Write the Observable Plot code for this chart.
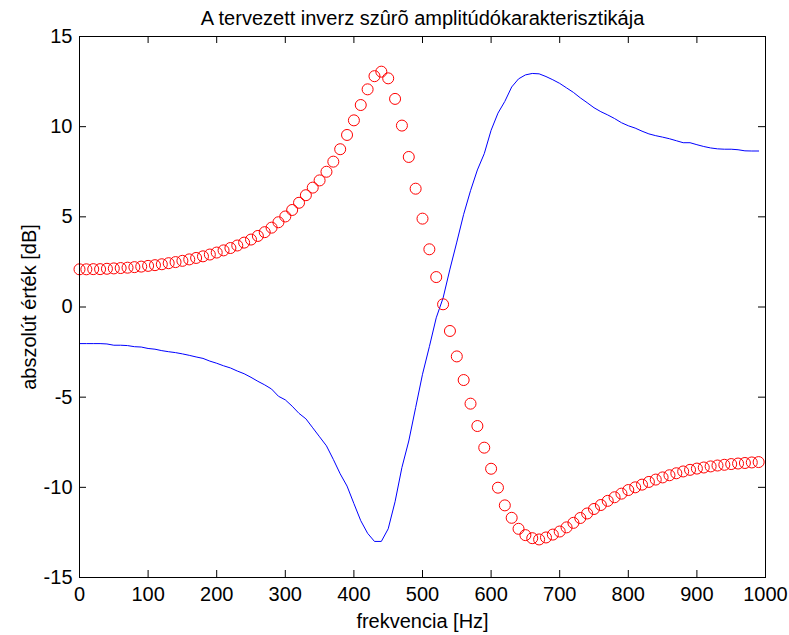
<!DOCTYPE html>
<html>
<head>
<meta charset="utf-8">
<script src="https://cdn.jsdelivr.net/npm/d3@7"></script>
<script src="https://cdn.jsdelivr.net/npm/@observablehq/plot@0.6"></script>
<style>
  html, body { margin: 0; padding: 0; background: #fff; overflow: hidden; }
</style>
</head>
<body>
<div id="chart"></div>
<script>
const title = "A tervezett inverz szûrõ amplitúdókarakterisztikája";
const xLabel = "frekvencia [Hz]";
const yLabel = "abszolút érték [dB]";

const freq = [0,10,20,30,40,50,60,70,80,90,100,110,120,130,140,150,160,170,180,190,
  200,210,220,230,240,250,260,270,280,290,300,310,320,330,340,350,360,370,380,390,
  400,410,420,430,440,450,460,470,480,490,500,510,520,530,540,550,560,570,580,590,
  600,610,620,630,640,650,660,670,680,690,700,710,720,730,740,750,760,770,780,790,
  800,810,820,830,840,850,860,870,880,890,900,910,920,930,940,950,960,970,980,990];

// red circles (designed filter)
const redValues = [2.09,2.09,2.10,2.10,2.12,2.14,2.16,2.18,2.21,2.24,
  2.28,2.32,2.37,2.43,2.49,2.56,2.64,2.72,2.81,2.91,
  3.02,3.14,3.27,3.41,3.57,3.74,3.94,4.15,4.40,4.70,
  5.02,5.38,5.78,6.20,6.62,7.02,7.50,8.06,8.75,9.54,
  10.35,11.20,12.07,12.80,13.05,12.68,11.54,10.06,8.32,6.56,
  4.90,3.20,1.66,0.15,-1.33,-2.74,-4.05,-5.36,-6.60,-7.80,
  -8.97,-10.02,-11.00,-11.69,-12.30,-12.65,-12.82,-12.89,-12.78,-12.62,
  -12.45,-12.22,-11.97,-11.70,-11.45,-11.20,-10.98,-10.75,-10.55,-10.35,
  -10.15,-10.00,-9.85,-9.70,-9.57,-9.45,-9.33,-9.22,-9.12,-9.03,
  -8.96,-8.90,-8.84,-8.79,-8.75,-8.71,-8.68,-8.65,-8.62,-8.60];

// blue line (inverse filter)
const blueValues = [-2.03,-2.03,-2.03,-2.03,-2.05,-2.12,-2.12,-2.14,-2.20,-2.22,
  -2.30,-2.34,-2.42,-2.48,-2.53,-2.60,-2.68,-2.77,-2.85,-3.00,
  -3.12,-3.26,-3.38,-3.55,-3.70,-3.90,-4.12,-4.32,-4.55,-4.95,
  -5.15,-5.50,-5.90,-6.20,-6.70,-7.20,-7.70,-8.45,-9.25,-9.93,
  -10.90,-11.85,-12.55,-13.00,-13.00,-12.30,-10.80,-8.90,-7.43,-5.58,
  -3.73,-2.20,-0.60,0.50,2.10,3.60,5.14,6.45,7.60,8.50,
  9.80,10.75,11.40,12.20,12.65,12.87,12.95,12.93,12.78,12.60,
  12.40,12.15,11.90,11.60,11.33,11.05,10.83,10.65,10.45,10.22,
  10.05,9.92,9.75,9.60,9.50,9.42,9.33,9.22,9.11,9.11,
  9.00,8.90,8.82,8.77,8.75,8.75,8.72,8.66,8.65,8.65];

const xTicks = [0,100,200,300,400,500,600,700,800,900,1000];
const yTicks = [-15,-10,-5,0,5,10,15];

const red = freq.map((f, i) => ({f, v: redValues[i]}));
const blue = freq.map((f, i) => ({f, v: blueValues[i]}));

const W = 789, H = 635;
const mL = 79, mR = 24, mT = 36, mB = 58;
const fw = W - mL - mR, fh = H - mT - mB;
const tl = 7;
const fs = 20;
const font = "'Liberation Sans', Arial, Helvetica, sans-serif";

const plot = Plot.plot({
  width: W,
  height: H,
  marginLeft: mL,
  marginRight: mR,
  marginTop: mT,
  marginBottom: mB,
  style: {fontFamily: font, fontSize: fs + "px", background: "white", color: "black"},
  x: {domain: [0, 1000], ticks: xTicks},
  y: {domain: [-15, 15], ticks: yTicks},
  marks: [
    Plot.line(blue, {x: "f", y: "v", stroke: "#0000ff", strokeWidth: 1}),
    Plot.dot(red, {x: "f", y: "v", r: 5.5, stroke: "#ff0000", strokeWidth: 1, fill: "none"}),
    // inward ticks on all four sides
    Plot.tickX(xTicks, {x: d => d, insetTop: fh - tl, stroke: "black"}),
    Plot.tickX(xTicks, {x: d => d, insetBottom: fh - tl, stroke: "black"}),
    Plot.tickY(yTicks, {y: d => d, insetRight: fw - tl, stroke: "black"}),
    Plot.tickY(yTicks, {y: d => d, insetLeft: fw - tl, stroke: "black"}),
    Plot.frame({stroke: "black", strokeWidth: 1}),
    Plot.axisX(xTicks, {tickSize: 0, tickPadding: 9, label: null, fontSize: fs, tickFormat: d => String(d)}),
    Plot.axisY(yTicks, {tickSize: 0, tickPadding: 7, label: null, fontSize: fs, tickFormat: d => String(d)}),
    Plot.text([title], {frameAnchor: "top", textAnchor: "middle", lineAnchor: "bottom", dy: -12, text: d => d, fontSize: fs, fill: "black"}),
    Plot.text([xLabel], {frameAnchor: "bottom", textAnchor: "middle", lineAnchor: "bottom", dy: 50, text: d => d, fontSize: fs, fill: "black"}),
    Plot.text([yLabel], {frameAnchor: "left", textAnchor: "middle", lineAnchor: "bottom", rotate: -90, dx: -44, text: d => d, fontSize: fs, fill: "black"})
  ]
});
document.getElementById("chart").appendChild(plot);
</script>
</body>
</html>
